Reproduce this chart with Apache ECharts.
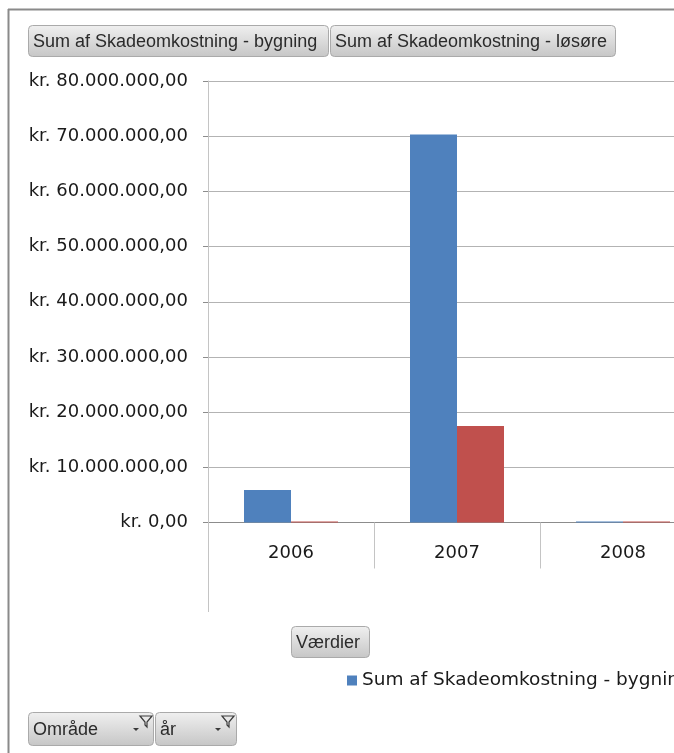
<!DOCTYPE html>
<html>
<head>
<meta charset="utf-8">
<script src="https://cdn.jsdelivr.net/npm/echarts@6/dist/echarts.min.js"></script>
<style>
html,body{margin:0;padding:0;background:#fff;overflow:hidden;width:674px;height:753px;}
#c{width:720px;height:753px;}
</style>
</head>
<body>
<div id="c"></div>
<script>
// ---- data ----
var years = ['2006', '2007', '2008'];
var seriesNames = ['Sum af Skadeomkostning - bygning', 'Sum af Skadeomkostning - løsøre'];
var bygning = [5900000, 70300000, 200000];
var losore = [200000, 17500000, 200000];
var yTicks = [0, 10000000, 20000000, 30000000, 40000000, 50000000, 60000000, 70000000, 80000000];
var fieldButtons = ['Område', 'år'];
var axisButton = 'Værdier';

function fmtKr(v) {
  var s = Math.round(v).toString().replace(/\B(?=(\d{3})+(?!\d))/g, '.');
  return 'kr. ' + s + ',00';
}

var FONT = '"DejaVu Sans", sans-serif';
var BTNFONT = '"Liberation Sans Narrow", "Liberation Sans", sans-serif';

function btnGrad() {
  return new echarts.graphic.LinearGradient(0, 0, 0, 1, [
    {offset: 0, color: '#f0f0f0'},
    {offset: 1, color: '#c6c6c6'}
  ]);
}
function button(x, y, w, h, label, tx) {
  return [
    {type: 'rect', shape: {x: x, y: y, width: w, height: h, r: 4},
     style: {fill: btnGrad(), stroke: '#aaaaaa', lineWidth: 1}, z: 10},
    {type: 'text', x: tx, y: y + h / 2 + 1,
     style: {text: label, font: '18px ' + BTNFONT, fill: '#2b2b2b', textVerticalAlign: 'middle', textAlign: 'left'}, z: 11}
  ];
}
function filterIcon(x, y) {
  return [
    {type: 'polygon', shape: {points: [[x, y], [x + 12, y], [x + 7, y + 6], [x + 7, y + 11], [x + 5, y + 9], [x + 5, y + 6]]},
     style: {fill: 'none', stroke: '#3a3a3a', lineWidth: 1.2}, z: 12},
    {type: 'polygon', shape: {points: [[x - 7, y + 12], [x - 1, y + 12], [x - 4, y + 15]]},
     style: {fill: '#3a3a3a'}, z: 12}
  ];
}

var graphics = [];
// outer frame
graphics.push({type: 'line', shape: {x1: 8.5, y1: 9, x2: 8.5, y2: 753}, style: {stroke: '#8a8a8a', lineWidth: 2}, z: 1});
graphics.push({type: 'line', shape: {x1: 8, y1: 9.5, x2: 720, y2: 9.5}, style: {stroke: '#8a8a8a', lineWidth: 2}, z: 1});
// y axis line extension below the plot
graphics.push({type: 'line', shape: {x1: 208.5, y1: 522, x2: 208.5, y2: 612}, style: {stroke: '#c4c4c4', lineWidth: 1}, z: 1});
// series buttons
graphics = graphics.concat(button(28.5, 25.5, 300, 31, seriesNames[0], 33));
graphics = graphics.concat(button(330.5, 25.5, 285, 31, seriesNames[1], 335));
// axis field button
graphics = graphics.concat(button(291.5, 626.5, 78, 31, axisButton, 296));
// filter buttons
graphics = graphics.concat(button(28.5, 712.5, 125, 33, fieldButtons[0], 33));
graphics = graphics.concat(filterIcon(140, 716));
graphics = graphics.concat(button(155.5, 712.5, 81, 33, fieldButtons[1], 160));
graphics = graphics.concat(filterIcon(222, 716));

var chart = echarts.init(document.getElementById('c'), null, {renderer: 'canvas'});
chart.setOption({
  animation: false,
  backgroundColor: '#ffffff',
  grid: {left: 208, top: 81, width: 498, height: 441.5, containLabel: false},
  legend: {
    data: seriesNames,
    left: 342, top: 666, width: 1200,
    itemWidth: 10, itemHeight: 10, itemGap: 30,
    icon: 'rect',
    textStyle: {fontFamily: FONT, fontSize: 18.5, color: '#1a1a1a'},
    selectedMode: false
  },
  xAxis: {
    type: 'category',
    data: years,
    boundaryGap: true,
    axisLine: {show: true, lineStyle: {color: '#8c8c8c', width: 1}},
    axisTick: {show: true, length: 46, alignWithLabel: false, lineStyle: {color: '#c4c4c4'}},
    axisLabel: {fontFamily: FONT, fontSize: 18, color: '#1a1a1a', margin: 22},
    splitLine: {show: false}
  },
  yAxis: {
    type: 'value',
    min: 0, max: 80000000, interval: 10000000,
    axisLine: {show: true, lineStyle: {color: '#c4c4c4'}},
    axisTick: {show: true, length: 5, lineStyle: {color: '#8c8c8c'}},
    axisLabel: {fontFamily: FONT, fontSize: 18, color: '#1a1a1a', margin: 20,
      formatter: function (v) { return fmtKr(v); }},
    splitLine: {show: true, lineStyle: {color: '#b3b3b3', width: 1}}
  },
  series: [
    {name: seriesNames[0], type: 'bar', data: bygning, barWidth: 47, barGap: '0%',
     itemStyle: {color: '#4f81bd'}},
    {name: seriesNames[1], type: 'bar', data: losore, barWidth: 47, barGap: '0%',
     itemStyle: {color: '#c0504d'}}
  ],
  graphic: graphics
});
</script>
</body>
</html>
